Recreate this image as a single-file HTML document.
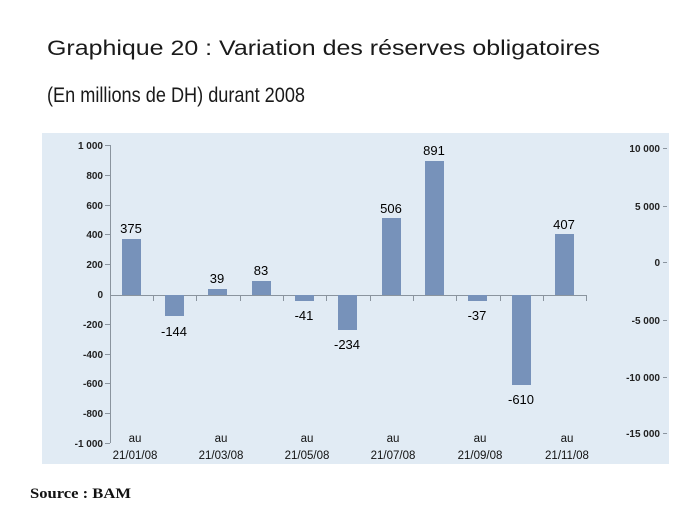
<!DOCTYPE html>
<html><head><meta charset="utf-8"><style>
html,body{margin:0;padding:0;background:#fff;}
svg{display:block;}
</style></head><body>
<svg width="682" height="512" viewBox="0 0 682 512" xmlns="http://www.w3.org/2000/svg" font-family="Liberation Sans, sans-serif">
<text x="47" y="55" font-size="21" fill="#1a1a1a" textLength="553" lengthAdjust="spacingAndGlyphs">Graphique 20 : Variation des réserves obligatoires</text>
<text x="47" y="102" font-size="21" fill="#1a1a1a" textLength="258" lengthAdjust="spacingAndGlyphs">(En millions de DH) durant 2008</text>
<rect x="42" y="133" width="627" height="331" fill="#e1ebf4"/>
<g stroke="#8a949e" stroke-width="1">
<line x1="110.5" y1="145" x2="110.5" y2="443"/>
<line x1="110" y1="295.5" x2="587" y2="295.5"/>
</g>
<g font-size="10" font-weight="bold" fill="#222" text-anchor="end">
<text x="103" y="149">1 000</text>
<text x="103" y="179">800</text>
<text x="103" y="209">600</text>
<text x="103" y="238">400</text>
<text x="103" y="268">200</text>
<text x="103" y="298">0</text>
<text x="103" y="328">-200</text>
<text x="103" y="358">-400</text>
<text x="103" y="387">-600</text>
<text x="103" y="417">-800</text>
<text x="103" y="447">-1 000</text>
<text x="660" y="152">10 000</text>
<text x="660" y="210">5 000</text>
<text x="660" y="266">0</text>
<text x="660" y="324">-5 000</text>
<text x="660" y="381">-10 000</text>
<text x="660" y="437">-15 000</text>
</g>
<g stroke="#8a949e" stroke-width="1">
<path d="M105 145.5h5M105 175.5h5M105 205.5h5M105 234.5h5M105 264.5h5M105 324.5h5M105 354.5h5M105 383.5h5M105 413.5h5M105 443.5h5"/>
<path d="M663 148.5h4M663 206.5h4M663 262.5h4M663 320.5h4M663 377.5h4M663 433.5h4"/>
<path d="M153.5 295v6M196.5 295v6M240.5 295v6M283.5 295v6M326.5 295v6M370.5 295v6M413.5 295v6M456.5 295v6M500.5 295v6M543.5 295v6M586.5 295v6"/>
</g>
<g fill="#7792ba">
<rect x="122" y="239" width="19" height="56"/>
<rect x="165" y="295" width="19" height="21"/>
<rect x="208" y="289" width="19" height="6"/>
<rect x="252" y="281" width="19" height="14"/>
<rect x="295" y="295" width="19" height="6"/>
<rect x="338" y="295" width="19" height="35"/>
<rect x="382" y="218" width="19" height="77"/>
<rect x="425" y="161" width="19" height="134"/>
<rect x="468" y="295" width="19" height="6"/>
<rect x="512" y="295" width="19" height="90"/>
<rect x="555" y="234" width="19" height="61"/>
</g>
<g font-size="13" fill="#000" text-anchor="middle">
<text x="131" y="233">375</text>
<text x="174" y="336">-144</text>
<text x="217" y="283">39</text>
<text x="261" y="275">83</text>
<text x="304" y="320">-41</text>
<text x="347" y="349">-234</text>
<text x="391" y="213">506</text>
<text x="434" y="155">891</text>
<text x="477" y="320">-37</text>
<text x="521" y="404">-610</text>
<text x="564" y="229">407</text>
</g>
<g font-size="11.5" fill="#111" text-anchor="middle">
<text x="135" y="442">au</text><text x="135" y="459">21/01/08</text>
<text x="221" y="442">au</text><text x="221" y="459">21/03/08</text>
<text x="307" y="442">au</text><text x="307" y="459">21/05/08</text>
<text x="393" y="442">au</text><text x="393" y="459">21/07/08</text>
<text x="480" y="442">au</text><text x="480" y="459">21/09/08</text>
<text x="567" y="442">au</text><text x="567" y="459">21/11/08</text>
</g>
<text x="30" y="498" font-family="Liberation Serif, serif" font-weight="bold" font-size="15" fill="#111" textLength="101" lengthAdjust="spacingAndGlyphs">Source : BAM</text>
</svg>
</body></html>
